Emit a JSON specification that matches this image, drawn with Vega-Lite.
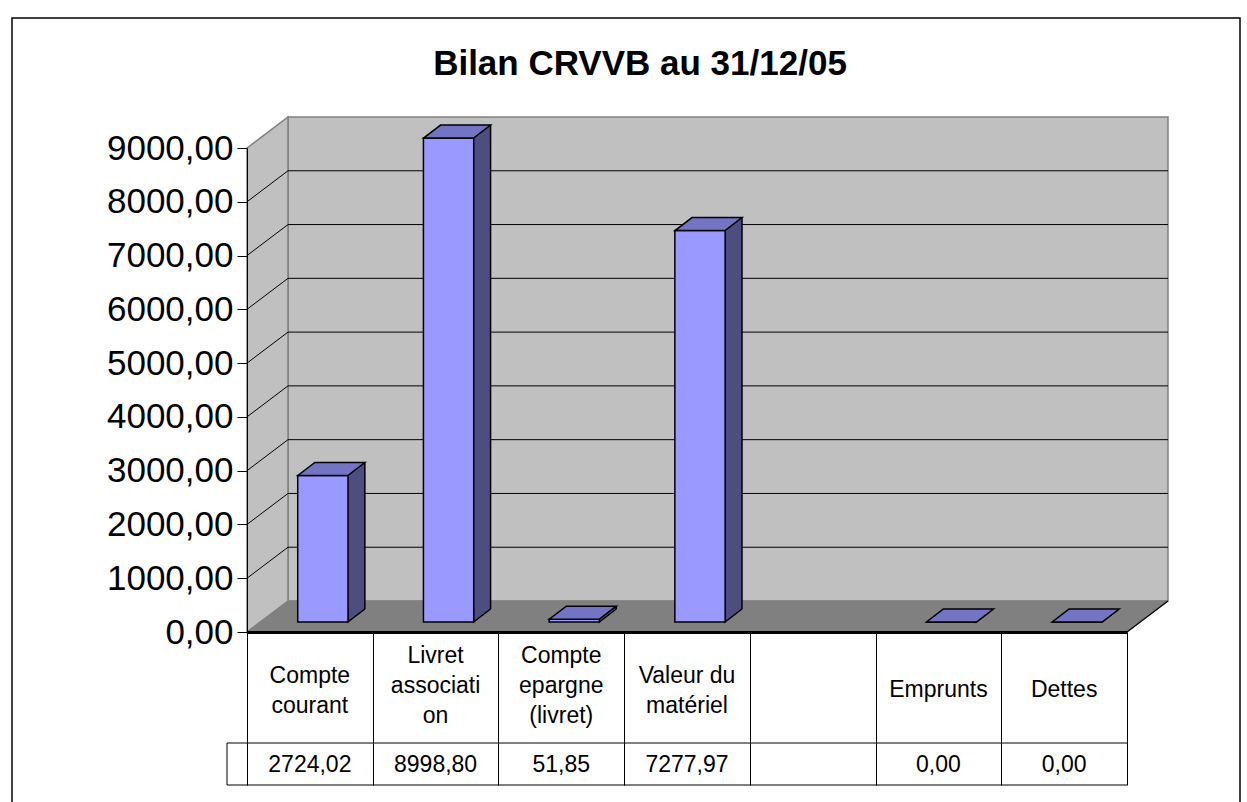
{
  "$schema": "https://vega.github.io/schema/vega-lite/v6.json",
  "width": 880,
  "height": 484,
  "autosize": {"type": "none"},
  "padding": {"left": 247, "top": 148, "right": 120, "bottom": 170},
  "background": "white",
  "config": {
    "view": {"stroke": null},
    "font": "Liberation Sans",
    "locale": {"number": {"decimal": ",", "thousands": " ", "grouping": [3], "currency": ["", " €"]}}
  },
  "title": {
    "text": "Bilan CRVVB au 31/12/05",
    "font": "Liberation Sans",
    "fontSize": 35,
    "fontWeight": "bold",
    "color": "black",
    "anchor": "middle",
    "dx": -47,
    "offset": -67
  },
  "datasets": {
    "bilan": [
      {"cat": "Compte courant", "label": "Compte\ncourant", "value": 2724.02},
      {"cat": "Livret association", "label": "Livret\nassociati\non", "value": 8998.80},
      {"cat": "Compte epargne (livret)", "label": "Compte\nepargne\n(livret)", "value": 51.85},
      {"cat": "Valeur du matériel", "label": "Valeur du\nmatériel", "value": 7277.97},
      {"cat": "(vide)", "label": "", "value": null},
      {"cat": "Emprunts", "label": "Emprunts", "value": 0},
      {"cat": "Dettes", "label": "Dettes", "value": 0}
    ],
    "grid": [{"v": 1000}, {"v": 2000}, {"v": 3000}, {"v": 4000}, {"v": 5000}, {"v": 6000}, {"v": 7000}, {"v": 8000}],
    "one": [{}]
  },
  "data": {"name": "bilan"},
  "layer": [
    {
      "data": {"name": "one"},
      "mark": {"type": "point", "shape": "M-235,-614 L993,-614 L993,185 L-235,185 Z", "size": 4, "filled": false, "stroke": "black", "strokeWidth": 1.5, "opacity": 1},
      "encoding": {
        "x": {"datum": "Compte courant", "type": "nominal", "bandPosition": 0,
              "scale": {"domain": ["Compte courant", "Livret association", "Compte epargne (livret)", "Valeur du matériel", "(vide)", "Emprunts", "Dettes"], "paddingInner": 0, "paddingOuter": 0}},
        "y": {"datum": 0, "type": "quantitative", "scale": {"domain": [0, 9000], "nice": false, "zero": true}}
      }
    },
    {
      "data": {"name": "one"},
      "mark": {"type": "point", "shape": "M41,-31 L921,-31 L921,-515 L41,-515 Z", "size": 4, "filled": true, "fill": "#c0c0c0", "stroke": "#808080", "strokeWidth": 1.5, "opacity": 1},
      "encoding": {
        "x": {"datum": "Compte courant", "type": "nominal", "bandPosition": 0},
        "y": {"datum": 0, "type": "quantitative"}
      }
    },
    {
      "data": {"name": "one"},
      "mark": {"type": "point", "shape": "M0,0 L0,-484 L41,-515 L41,-31 Z", "size": 4, "filled": true, "fill": "#c0c0c0", "stroke": "#808080", "strokeWidth": 1.5, "opacity": 1},
      "encoding": {
        "x": {"datum": "Compte courant", "type": "nominal", "bandPosition": 0},
        "y": {"datum": 0, "type": "quantitative"}
      }
    },
    {
      "data": {"name": "grid"},
      "mark": {"type": "point", "shape": "M0,0 L41,-31 L921,-31", "size": 4, "filled": false, "stroke": "black", "strokeWidth": 1, "opacity": 1},
      "encoding": {
        "x": {"datum": "Compte courant", "type": "nominal", "bandPosition": 0},
        "y": {"field": "v", "type": "quantitative"}
      }
    },
    {
      "data": {"name": "one"},
      "mark": {"type": "point", "shape": "M0,0 L880,0 L921,-31 L41,-31 Z", "size": 4, "filled": true, "fill": "#808080", "stroke": "#808080", "strokeWidth": 1, "opacity": 1},
      "encoding": {
        "x": {"datum": "Compte courant", "type": "nominal", "bandPosition": 0},
        "y": {"datum": 0, "type": "quantitative"}
      }
    },
    {
      "data": {"name": "one"},
      "mark": {"type": "point", "shape": "M880,0 L921,-31", "size": 4, "filled": false, "stroke": "black", "strokeWidth": 1.2, "opacity": 1},
      "encoding": {
        "x": {"datum": "Compte courant", "type": "nominal", "bandPosition": 0},
        "y": {"datum": 0, "type": "quantitative"}
      }
    },
    {
      "data": {"name": "one"},
      "mark": {"type": "point", "shape": "M-20,111 L880,111 M-20,153 L880,153 M-20,111 L-20,153", "size": 4, "filled": false, "stroke": "black", "strokeWidth": 1, "opacity": 1},
      "encoding": {
        "x": {"datum": "Compte courant", "type": "nominal", "bandPosition": 0},
        "y": {"datum": 0, "type": "quantitative"}
      }
    },
    {
      "transform": [{"filter": "isValid(datum.value)"}],
      "mark": {"type": "bar", "width": 17, "xOffset": 46.5, "yOffset": -23, "y2Offset": -23, "fill": "#4d4d80", "strokeWidth": 0},
      "encoding": {
        "x": {"field": "cat", "type": "nominal"},
        "y": {"field": "value", "type": "quantitative"}
      }
    },
    {
      "transform": [{"filter": "isValid(datum.value)"}],
      "mark": {"type": "point", "shape": "M38,-23 L38,-10 L55,-23", "size": 4, "filled": true, "fill": "#4d4d80", "stroke": "black", "strokeWidth": 1.5, "opacity": 1},
      "encoding": {
        "x": {"field": "cat", "type": "nominal"},
        "y": {"datum": 0, "type": "quantitative"}
      }
    },
    {
      "transform": [{"filter": "isValid(datum.value)"}],
      "mark": {"type": "rule", "xOffset": 55, "yOffset": -23, "y2Offset": -23, "stroke": "black", "strokeWidth": 1.5},
      "encoding": {
        "x": {"field": "cat", "type": "nominal"},
        "y": {"field": "value", "type": "quantitative"},
        "y2": {"datum": 0}
      }
    },
    {
      "transform": [{"filter": "isValid(datum.value)"}],
      "mark": {"type": "bar", "width": {"band": 0.4}, "xOffset": 13, "yOffset": -10, "y2Offset": -10, "fill": "#9999ff", "stroke": "black", "strokeWidth": 1.5},
      "encoding": {
        "x": {"field": "cat", "type": "nominal",
              "axis": {"orient": "bottom", "labels": false, "title": null, "tickBand": "extent", "tickSize": 153, "tickColor": "black", "tickWidth": 1, "domainColor": "black", "domainWidth": 3, "grid": false, "zindex": 1}},
        "y": {"field": "value", "type": "quantitative",
              "axis": {"orient": "left", "values": [0, 1000, 2000, 3000, 4000, 5000, 6000, 7000, 8000, 9000], "format": ".2f", "labelFontSize": 35, "labelFont": "Liberation Sans", "labelColor": "black", "tickSize": 10, "tickColor": "black", "domainColor": "black", "domainWidth": 1, "labelPadding": 4, "grid": false, "title": null, "zindex": 1}}
      }
    },
    {
      "transform": [{"filter": "isValid(datum.value)"}],
      "mark": {"type": "point", "shape": "M-12,-10 L38,-10 L55,-23 L5,-23 Z", "size": 4, "filled": true, "fill": "#7474c4", "stroke": "black", "strokeWidth": 1.5, "opacity": 1},
      "encoding": {
        "x": {"field": "cat", "type": "nominal"},
        "y": {"field": "value", "type": "quantitative"}
      }
    },
    {
      "transform": [{"filter": "length(split(datum.label, '\\n')) == 1"}],
      "mark": {"type": "text", "fontSize": 23, "baseline": "middle", "align": "center", "color": "black"},
      "encoding": {
        "x": {"field": "cat", "type": "nominal"},
        "y": {"datum": -1078, "type": "quantitative"},
        "text": {"field": "label"}
      }
    },
    {
      "transform": [{"filter": "length(split(datum.label, '\\n')) == 2"}],
      "mark": {"type": "text", "fontSize": 23, "lineBreak": "\n", "lineHeight": 30, "baseline": "middle", "align": "center", "color": "black"},
      "encoding": {
        "x": {"field": "cat", "type": "nominal"},
        "y": {"datum": -818, "type": "quantitative"},
        "text": {"field": "label"}
      }
    },
    {
      "transform": [{"filter": "length(split(datum.label, '\\n')) == 3"}],
      "mark": {"type": "text", "fontSize": 23, "lineBreak": "\n", "lineHeight": 30, "baseline": "middle", "align": "center", "color": "black"},
      "encoding": {
        "x": {"field": "cat", "type": "nominal"},
        "y": {"datum": -446, "type": "quantitative"},
        "text": {"field": "label"}
      }
    },
    {
      "transform": [{"filter": "isValid(datum.value)"}],
      "mark": {"type": "text", "fontSize": 23, "baseline": "middle", "align": "center", "color": "black"},
      "encoding": {
        "x": {"field": "cat", "type": "nominal"},
        "y": {"datum": -2473, "type": "quantitative"},
        "text": {"field": "value", "type": "quantitative", "format": ".2f"}
      }
    }
  ]
}
